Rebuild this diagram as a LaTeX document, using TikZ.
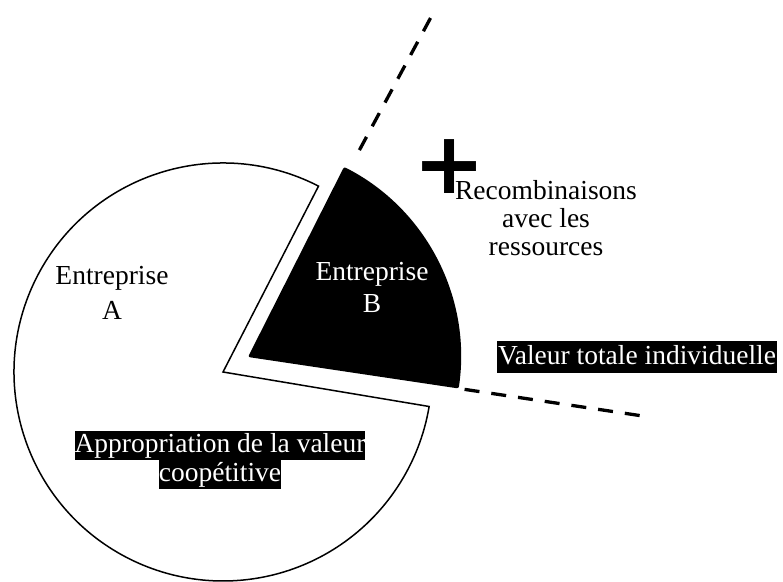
\documentclass[tikz,border=0pt]{standalone}
\usepackage{fontspec}
\setmainfont{Liberation Serif}
\newfontfamily\plusfont{DejaVu Sans}
\usetikzlibrary{calc}
\tikzset{  lbl/.style={align=center,inner sep=0pt,font=\fontsize{27.5}{28}\selectfont},
  hl/.style={lbl,fill=black,text=white,text height=24pt,text depth=8pt,inner xsep=1pt},
  cut/.style={line width=3.3pt,dash pattern=on 15pt off 12pt} }
\newcommand{\hlbox}[1]{{\setlength{\fboxsep}{0pt}\colorbox{black}{\rule[-7pt]{0pt}{29pt}#1}}}

\begin{document}
\begin{tikzpicture}[x=1pt,y=1pt]
   \useasboundingbox (0,0) rectangle (783,581);
   \coordinate (ca) at (223,209);
   \coordinate (cb) at (248,224);
   \draw[line width=1.5pt,fill=white] (ca) -- ++(62.8:209) arc[start angle=62.8,end angle=350.5,radius=209] -- cycle;
   \fill[rounded corners=2pt] (cb) -- ++(-8.5:213) arc[start angle=-8.5,end angle=63.2,radius=213] -- cycle;
   \coordinate (up1) at ($(cb)+(61.7:235)$);
   \coordinate (up2) at ($(cb)+(61.7:388)$);
   \coordinate (lo1) at ($(cb)+(-8.5:219)$);
   \coordinate (lo2) at ($(cb)+(-8.5:404)$);
   \draw[cut] (up1) -- (up2);
   \draw[cut] (lo1) -- (lo2);
   \node[lbl] (entA) at (112,288) {Entreprise\\[7pt]A};
   \node[lbl,text=white] (entB) at (372,294) {Entreprise\\[4pt]B};
   \node[lbl] (recomb) at (546,363) {Recombinaisons\\avec les\\ressources};
   \node[hl] (valeur) at (637,224) {Valeur totale individuelle};
   \node[lbl,text=white,font=\fontsize{27.5}{29}\selectfont] (appro) at (220,121.5) {\hlbox{Appropriation de la valeur}\\\hlbox{coopétitive}};
   \node[inner sep=0pt,font=\plusfont\fontsize{86}{86}\selectfont\bfseries] (plus) at (450,414) {+};
  \end{tikzpicture}
\end{document}
